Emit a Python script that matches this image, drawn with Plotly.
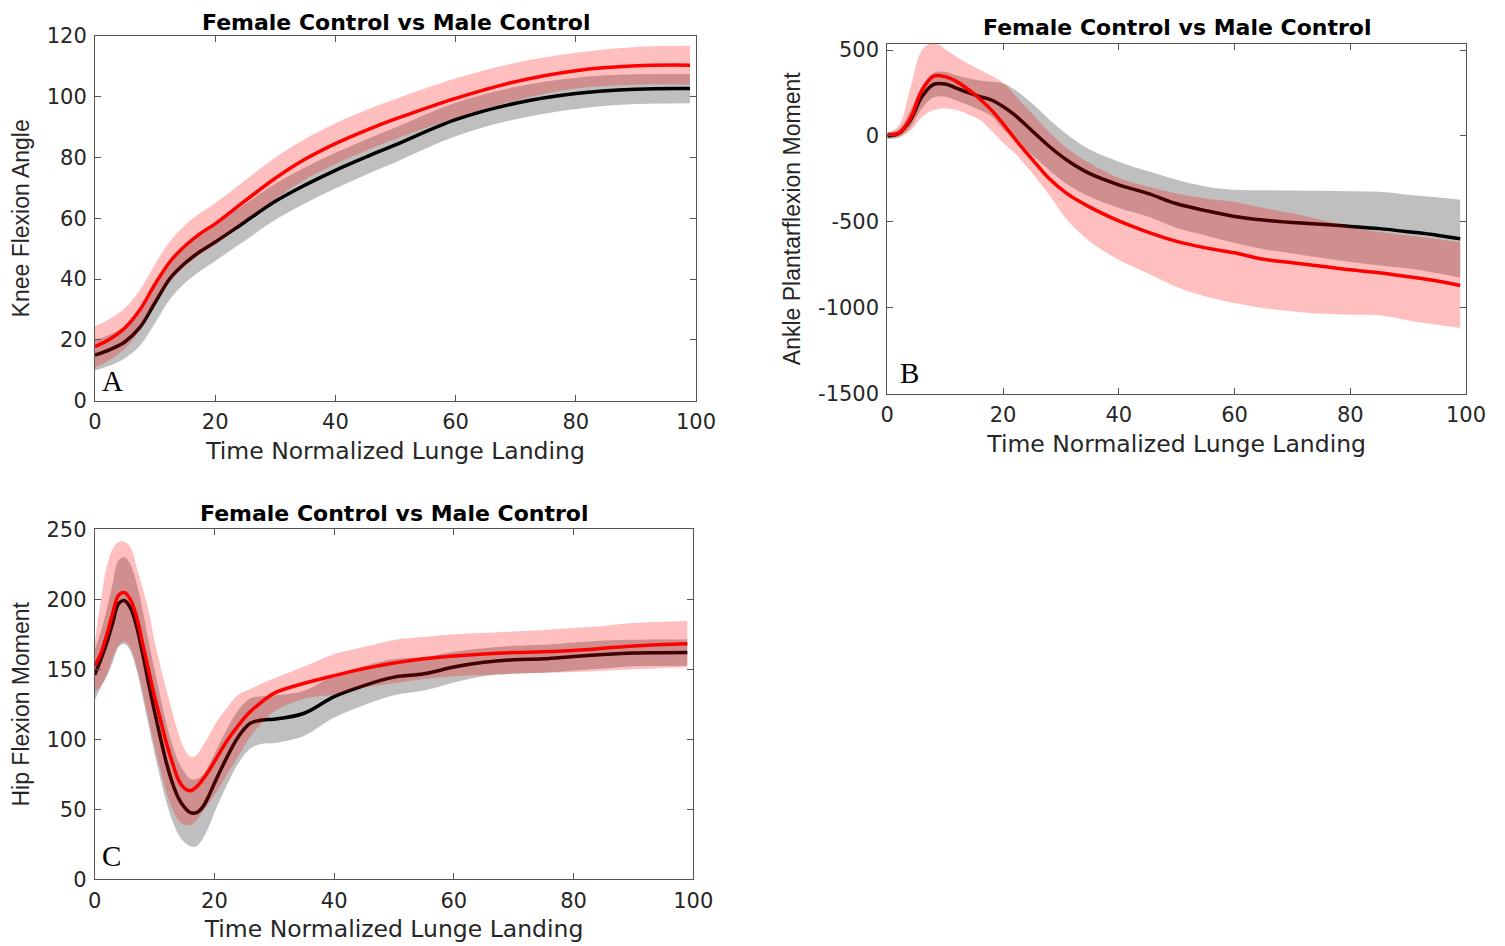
import plotly.graph_objects as go

# ---------------- Panel A: Knee Flexion Angle ----------------
x_knee = [0, 2.5, 5, 7.5, 10, 12.5, 15, 17.5, 20, 25, 30, 35, 40, 45, 50, 60, 70, 80, 90, 99]
knee_female_mean = [17.8, 20.3, 24, 30, 38.4, 45.8, 51, 55, 58.2, 65.8, 73.2, 79.5, 84.6, 88.9, 92.7, 99.5, 105, 108.6, 110.2, 110.4]
knee_female_upper = [24.5, 27, 30.5, 36.5, 45, 52.5, 57.8, 61.8, 65, 72.5, 80, 86.2, 91.3, 95.6, 99.3, 106, 111.2, 114.5, 116.4, 116.8]
knee_female_lower = [11, 13.5, 17.2, 23.3, 31.8, 39.1, 44.2, 48.2, 51.4, 59.1, 66.4, 72.8, 77.9, 82.2, 86.1, 93, 98.8, 102.7, 104, 104]
knee_male_mean = [15, 16.8, 19.4, 24.2, 32.3, 40.3, 45.3, 49.1, 52.2, 58.9, 65.6, 71, 75.8, 80.1, 84.2, 92.5, 97.9, 101.1, 102.5, 102.7]
knee_male_upper = [20, 21.8, 24.5, 29.6, 37.8, 45.9, 51, 54.9, 58, 64.7, 71.4, 76.8, 81.6, 85.9, 89.9, 98, 103.3, 106.3, 107.4, 107.5]
knee_male_lower = [10, 11.6, 14, 18.2, 25.6, 33.5, 38.8, 42.7, 46, 52.7, 59.5, 65, 69.8, 74.3, 78.5, 87, 92.6, 96, 97.6, 97.9]

# ---------------- Panel B: Ankle Plantarflexion Moment ----------------
x_ankle = [0, 2, 4, 6, 8, 10, 12, 14, 16, 18, 20, 22, 25, 28, 31, 35, 40, 45, 50, 55, 60, 65, 70, 75, 80, 85, 90, 95, 99]
ankle_female_mean = [10, 15, 103, 267, 348, 345, 316, 270, 215, 150, 71, -15, -135, -250, -335, -415, -495, -560, -614, -652, -681, -718, -739, -759, -780, -797, -820, -845, -871]
ankle_female_upper = [15, 60, 280, 500, 545, 505, 460, 420, 385, 350, 310, 240, 130, 20, -70, -160, -245, -295, -335, -365, -385, -420, -450, -490, -527, -560, -580, -600, -620]
ankle_female_lower = [-10, -5, 30, 110, 150, 160, 150, 125, 93, 30, -40, -100, -215, -345, -485, -615, -721, -800, -880, -935, -973, -1003, -1022, -1035, -1041, -1045, -1075, -1100, -1118]
ankle_male_mean = [0, 15, 93, 229, 300, 302, 277, 252, 229, 209, 171, 122, 30, -62, -140, -220, -285, -335, -395, -435, -469, -490, -504, -515, -527, -540, -558, -578, -599]
ankle_male_upper = [20, 40, 150, 290, 368, 372, 352, 335, 322, 315, 305, 270, 190, 95, 10, -80, -150, -205, -255, -294, -314, -316, -318, -320, -322, -326, -343, -358, -372]
ankle_male_lower = [-20, -10, 50, 160, 225, 228, 205, 180, 150, 115, 40, -15, -110, -200, -280, -355, -420, -470, -537, -580, -624, -660, -685, -710, -735, -755, -772, -800, -826]
ankle_tickvals = [-1500, -1000, -500, 0, 500]
ankle_ticktext = ["-1500", "-1000", "-500", "0", "500"]

# ---------------- Panel C: Hip Flexion Moment ----------------
x_hip = [0, 1, 2, 3, 4, 5, 6, 7, 8, 9, 10, 11, 12, 13, 14, 15, 16, 17, 18, 19, 20, 22, 24, 26, 28, 30, 35, 40, 45, 50, 55, 60, 65, 70, 75, 80, 85, 90, 95, 99]
hip_female_mean = [152.4, 161, 174.5, 190, 203, 204.8, 199.5, 187.6, 168.6, 149.5, 130.5, 113.8, 97, 83, 71, 65, 63.3, 66, 71, 77, 84, 98.3, 110, 119.8, 127, 133, 140, 145.5, 150.5, 154.5, 157.5, 159.5, 161, 162, 162.5, 163.5, 165, 166.7, 167.7, 168.3]
hip_female_upper = [169, 198, 223, 236, 241, 241, 237, 223, 208, 192, 170, 152, 135, 119, 104, 93, 87.5, 88.5, 95, 102, 110, 122, 132, 136, 140, 143.6, 152, 161, 166, 171, 173, 175, 176, 177, 178, 179.5, 181, 183, 184, 184.5]
hip_female_lower = [134, 138, 146, 158, 167, 170, 165, 152, 134, 114, 95, 78, 62, 50, 42, 39, 39, 42, 48, 54, 60, 74, 88, 102, 112, 120, 129, 132, 137, 140, 143, 145, 146, 147, 147.5, 148, 149, 150, 151, 151.5]
hip_male_mean = [146, 156.7, 168.6, 182.9, 197, 199, 193.6, 180.5, 161.4, 140, 119.8, 100.7, 82.9, 68.6, 57.9, 51.4, 47.6, 47.6, 51.4, 59, 68.6, 86.4, 101.9, 111.4, 113.8, 114.3, 118.6, 130.5, 138.4, 144.4, 146.8, 151.6, 155, 156.8, 157.5, 159.2, 160.6, 161.6, 161.8, 162]
hip_male_upper = [164, 176.7, 192.6, 210.9, 228, 230, 224.6, 211.5, 192.4, 170, 149.8, 129.7, 110.9, 95.6, 83.9, 76.4, 71.6, 71.6, 74.4, 81, 89.6, 106.4, 120.9, 129.4, 130.8, 131.3, 134.6, 145.5, 152.4, 157.4, 158.8, 162.6, 165, 166.8, 167.5, 169.2, 170.6, 171.1, 171.3, 171.5]
hip_male_lower = [128, 136.7, 144.6, 154.9, 166, 168, 162.6, 149.5, 130.4, 110, 89.8, 71.7, 54.9, 41.6, 31.9, 26.4, 23.6, 23.6, 28.4, 37, 47.6, 66.4, 82.9, 93.4, 96.8, 97.3, 102.6, 115.5, 124.4, 131.4, 134.8, 140.6, 145, 146.8, 147.5, 149.2, 150.6, 152.1, 152.3, 152.5]

title_text = "Female Control vs Male Control"
x_title = "Time Normalized Lunge Landing"

MALE_BAND = "rgba(0,0,0,0.25)"
FEMALE_BAND = "rgba(255,0,0,0.25)"
MALE_LINE = "#000000"
FEMALE_LINE = "#ff0000"

FONT = "DejaVu Sans"
YFONT = "Liberation Sans"
AX_COLOR = "#555555"
TXT_COLOR = "#262626"

fig = go.Figure()


def add_panel(xa, ya, x, fm, fu, fl, mm, mu, ml):
    common = dict(xaxis=xa, yaxis=ya, hoverinfo="skip", showlegend=False)
    fig.add_trace(go.Scatter(x=x, y=ml, mode="lines", line=dict(width=0, shape="spline"), **common))
    fig.add_trace(go.Scatter(x=x, y=mu, mode="lines", line=dict(width=0, shape="spline"),
                             fill="tonexty", fillcolor=MALE_BAND, **common))
    fig.add_trace(go.Scatter(x=x, y=mm, mode="lines", line=dict(color=MALE_LINE, width=3.5, shape="spline"), **common))
    fig.add_trace(go.Scatter(x=x, y=fl, mode="lines", line=dict(width=0, shape="spline"), **common))
    fig.add_trace(go.Scatter(x=x, y=fu, mode="lines", line=dict(width=0, shape="spline"),
                             fill="tonexty", fillcolor=FEMALE_BAND, **common))
    fig.add_trace(go.Scatter(x=x, y=fm, mode="lines", line=dict(color=FEMALE_LINE, width=3.5, shape="spline"), **common))


add_panel("x", "y", x_knee, knee_female_mean, knee_female_upper, knee_female_lower,
          knee_male_mean, knee_male_upper, knee_male_lower)
add_panel("x2", "y2", x_ankle, ankle_female_mean, ankle_female_upper, ankle_female_lower,
          ankle_male_mean, ankle_male_upper, ankle_male_lower)
add_panel("x3", "y3", x_hip, hip_female_mean, hip_female_upper, hip_female_lower,
          hip_male_mean, hip_male_upper, hip_male_lower)

# The page body adds an 8 px margin; size the figure to fit the window and offset positions.
OFF = 8
W, H = 1505 - OFF, 946 - OFF


def dom_x(a, b):
    return [(a - OFF) / W, (b - OFF) / W]


def dom_y(top, bottom):
    return [1 - (bottom - OFF) / H, 1 - (top - OFF) / H]


axis_common = dict(
    showline=True, linecolor=AX_COLOR, linewidth=1, mirror="allticks",
    ticks="inside", ticklen=6, tickcolor=AX_COLOR, tickwidth=1,
    showgrid=False, zeroline=False, automargin=False,
    tickfont=dict(family=FONT, size=21, color=TXT_COLOR),
)
xtitle = dict(text=x_title, font=dict(family=FONT, size=23.5, color=TXT_COLOR), standoff=9)


def ytitle(t):
    return dict(text=t, font=dict(family=YFONT, size=23, color=TXT_COLOR), standoff=11)


fig.update_layout(
    width=W, height=H,
    margin=dict(l=0, r=0, t=0, b=0, autoexpand=False),
    paper_bgcolor="white", plot_bgcolor="white",
    showlegend=False,
    xaxis=dict(domain=dom_x(95, 696), anchor="y", range=[0, 100], dtick=20, tick0=0,
               ticklabelstandoff=2, title=xtitle, **axis_common),
    yaxis=dict(domain=dom_y(36, 400.7), anchor="x", range=[0, 120], dtick=20, tick0=0,
               ticklabelstandoff=3, title=ytitle("Knee Flexion Angle"), **axis_common),
    xaxis2=dict(domain=dom_x(887.3, 1466), anchor="y2", range=[0, 100], dtick=20, tick0=0,
                ticklabelstandoff=2, title=xtitle, **axis_common),
    yaxis2=dict(domain=dom_y(44, 393.5), anchor="x2", range=[-1500, 535],
                tickvals=ankle_tickvals, ticktext=ankle_ticktext, ticklabelstandoff=3,
                title=ytitle("Ankle Plantarflexion Moment"), **axis_common),
    xaxis3=dict(domain=dom_x(94.7, 693.3), anchor="y3", range=[0, 100], dtick=20, tick0=0,
                ticklabelstandoff=2, title=xtitle, **axis_common),
    yaxis3=dict(domain=dom_y(529.3, 879.3), anchor="x3", range=[0, 250], dtick=50, tick0=0,
                ticklabelstandoff=3, title=ytitle("Hip Flexion Moment"), **axis_common),
)

title_font = dict(family=FONT, size=22, color="#000000")
# (center x, top y) of each panel title box in window pixels
for (xc, ytop) in [(396, 8.5), (1177, 14), (394, 500)]:
    fig.add_annotation(text="<b>" + title_text + "</b>", xref="paper", yref="paper",
                       x=(xc - OFF) / W, y=1 - (ytop - OFF) / H, xanchor="center", yanchor="top",
                       borderpad=0, showarrow=False, font=title_font)

letter_font = dict(family="Liberation Serif", size=29, color="#000000")
fig.add_annotation(text="A", xref="x", yref="y", x=2.9, y=6.6, showarrow=False,
                   xanchor="center", yanchor="middle", font=letter_font)
fig.add_annotation(text="B", xref="x2", yref="y2", x=3.8, y=-1378, showarrow=False,
                   xanchor="center", yanchor="middle", font=letter_font)
fig.add_annotation(text="C", xref="x3", yref="y3", x=2.8, y=17, showarrow=False,
                   xanchor="center", yanchor="middle", font=letter_font)

fig.write_html("out.html")
